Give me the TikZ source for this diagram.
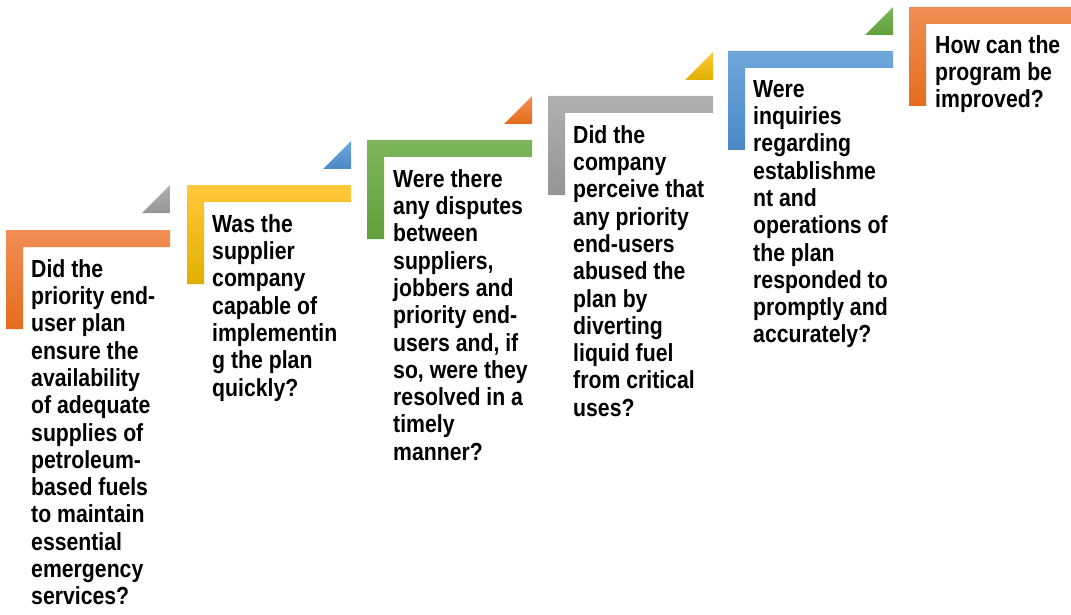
\documentclass[tikz,border=0pt]{standalone}
\usepackage{fontspec}
\setmainfont{Liberation Sans}[FakeStretch=0.86]
\usepackage{tikz}
\usetikzlibrary{positioning}

\definecolor{orangeT}{HTML}{F28E55}
\definecolor{orangeB}{HTML}{E46C1C}
\definecolor{yellowT}{HTML}{FFC93A}
\definecolor{yellowB}{HTML}{E0B000}
\definecolor{greenT}{HTML}{7EB65B}
\definecolor{greenB}{HTML}{61A03A}
\definecolor{grayT}{HTML}{B0B0B0}
\definecolor{grayB}{HTML}{959595}
\definecolor{blueT}{HTML}{6FA7DC}
\definecolor{blueB}{HTML}{4A88C6}

\begin{document}
\begin{tikzpicture}[x=1pt,y=-1pt,
		orangefill/.style={top color=orangeT, bottom color=orangeB},
		yellowfill/.style={top color=yellowT, bottom color=yellowB},
		greenfill/.style={top color=greenT, bottom color=greenB},
		grayfill/.style={top color=grayT, bottom color=grayB},
		bluefill/.style={top color=blueT, bottom color=blueB},
		question/.style={anchor=north west, inner sep=0pt, align=left, text=black,
			font=\fontsize{24.7}{27.3}\selectfont\bfseries}]
		\useasboundingbox (0,0) rectangle (1071,615);

		% step 1
		\shade[orangefill] (6,230) -- (170,230) -- (170,247) -- (23,247) -- (23,329) -- (6,329) -- cycle;
		\shade[grayfill] (142,213) -- (170,213) -- (170,185) -- cycle;
		\draw (31,257.9) node[question] (q1) {\strut Did the\\priority end-\\user plan\\ensure the\\availability\\of adequate\\supplies of\\petroleum-\\based fuels\\to maintain\\essential\\emergency\\services?};

		% step 2
		\shade[yellowfill] (187,185) -- (351,185) -- (351,202) -- (204,202) -- (204,284) -- (187,284) -- cycle;
		\shade[bluefill] (323,169) -- (351,169) -- (351,141) -- cycle;
		\draw (212,212.9) node[question] (q2) {\strut Was the\\supplier\\company\\capable of\\implementin\\g the plan\\quickly?};

		% step 3
		\shade[greenfill] (367,140) -- (532,140) -- (532,157) -- (384,157) -- (384,239) -- (367,239) -- cycle;
		\shade[orangefill] (504,124) -- (532,124) -- (532,96) -- cycle;
		\draw (393,167.9) node[question] (q3) {\strut Were there\\any disputes\\between\\suppliers,\\jobbers and\\priority end-\\users and, if\\so, were they\\resolved in a\\timely\\manner?};

		% step 4
		\shade[grayfill] (548,96) -- (713,96) -- (713,113) -- (565,113) -- (565,195) -- (548,195) -- cycle;
		\shade[yellowfill] (685,80) -- (713,80) -- (713,52) -- cycle;
		\draw (573,123.9) node[question] (q4) {\strut Did the\\company\\perceive that\\any priority\\end-users\\abused the\\plan by\\diverting\\liquid fuel\\from critical\\uses?};

		% step 5
		\shade[bluefill] (728,51) -- (893,51) -- (893,68) -- (745,68) -- (745,150) -- (728,150) -- cycle;
		\shade[greenfill] (865,35) -- (893,35) -- (893,7) -- cycle;
		\draw (753,77.9) node[question] (q5) {\strut Were\\inquiries\\regarding\\establishme\\nt and\\operations of\\the plan\\responded to\\promptly and\\accurately?};

		% step 6
		\shade[orangefill] (909,7) -- (1073,7) -- (1073,24) -- (926,24) -- (926,106) -- (909,106) -- cycle;
		\draw (935,33.9) node[question] (q6) {\strut How can the\\program be\\improved?};
\end{tikzpicture}
\end{document}
